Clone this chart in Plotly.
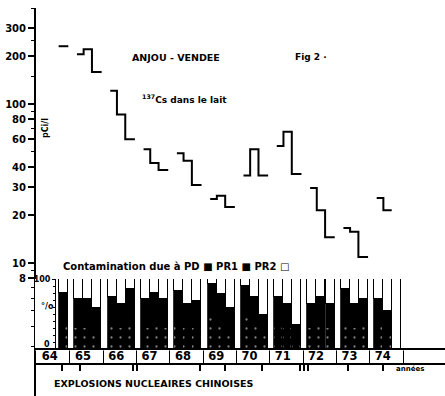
import plotly.graph_objects as go

# ---------------- data ----------------
years = [1964, 1965, 1966, 1967, 1968, 1969, 1970, 1971, 1972, 1973, 1974]
year_labels = ["64", "65", "66", "67", "68", "69", "70", "71", "72", "73", "74"]

# 137Cs in milk (pCi/l), three periods per year
cs137_period1 = [None, 206, 121, 52, 49, 25.3, 35.5, 54.5, 29.6, 16.6, 25.6]
cs137_period2 = [None, 221, 86, 42.5, 44, 26.5, 52, 67, 21.5, 15.7, 21.5]
cs137_period3 = [231, 159, 60, 38.5, 31, 22.5, 35.5, 36.3, 14.5, 10.9, None]

# contamination share (%) due to PD, PR1 (black part) ; PR2 = remainder (white)
pd_period1 = [None, 30, 35, 30, 40, 45, 45, 35, 30, 40, 35]
pd_period2 = [None, 30, 30, 40, 30, 35, 35, 30, 35, 30, 25]
pd_period3 = [35, 25, 40, 30, 30, 25, 20, 15, 30, 35, 0]
pr1_period1 = [None, 42, 40, 41, 43, 48, 45, 40, 34, 46, 37]
pr1_period2 = [None, 42, 34, 40, 34, 43, 40, 34, 40, 34, 29]
pr1_period3 = [45, 33, 46, 41, 38, 33, 29, 20, 35, 36, 0]
pr2_period1 = [None, 28, 25, 29, 17, 7, 10, 25, 36, 14, 28]
pr2_period2 = [None, 28, 36, 20, 36, 22, 25, 36, 25, 36, 46]
pr2_period3 = [20, 42, 14, 29, 32, 42, 51, 65, 35, 29, 100]

# Chinese nuclear explosions (positions on the time axis)
explosions = [1964.55, 1965.09, 1966.68, 1966.8, 1968.69, 1969.44, 1970.56,
              1971.70, 1971.82, 1971.94, 1973.14, 1974.19]

y_ticks = [8, 10, 20, 30, 40, 60, 80, 100, 200, 300]

# ---------------- layout helpers ----------------
W, H = 445, 396
ML, MR, MT, MB = 35, 0, 8, 0
PW, PH = W - ML - MR, H - MT - MB


def px(x):
    return (x - ML) / PW


def py(y):
    return (H - MB - y) / PH


step_edges = [0.0, 0.2, 0.45, 0.74]
bar_offsets = [0.055, 0.325, 0.6]
bar_width = 0.27
FONT = "DejaVu Sans"

# step-line coordinates
sx, sy = [], []
for i, yr in enumerate(years):
    vals = [cs137_period1[i], cs137_period2[i], cs137_period3[i]]
    pts_x, pts_y = [], []
    last = None
    for k, v in enumerate(vals):
        if v is None:
            continue
        pts_x.append(yr + step_edges[k])
        pts_y.append(v)
        last = k
    if pts_x:
        pts_x.append(yr + step_edges[last + 1])
        pts_y.append(pts_y[-1])
        sx += pts_x + [None]
        sy += pts_y + [None]

# bar coordinates
bx, b_pd, b_pr1, b_pr2 = [], [], [], []
for i, yr in enumerate(years):
    for k, (a, b, c) in enumerate(zip([pd_period1[i], pd_period2[i], pd_period3[i]],
                                      [pr1_period1[i], pr1_period2[i], pr1_period3[i]],
                                      [pr2_period1[i], pr2_period2[i], pr2_period3[i]])):
        if c is None:
            continue
        bx.append(yr + bar_offsets[k])
        b_pd.append(a)
        b_pr1.append(b)
        b_pr2.append(c)

fig = go.Figure()

fig.add_trace(go.Bar(
    x=bx, y=b_pd, width=bar_width, xaxis="x", yaxis="y2", name="PD",
    marker=dict(color="black", line=dict(color="black", width=0.8),
                pattern=dict(shape=".", fgcolor="white", size=9, solidity=0.05,
                             fillmode="overlay")),
    showlegend=False, hoverinfo="skip"))
fig.add_trace(go.Bar(
    x=bx, y=b_pr1, width=bar_width, xaxis="x", yaxis="y2", name="PR1",
    marker=dict(color="black", line=dict(color="black", width=0.8)),
    showlegend=False, hoverinfo="skip"))
fig.add_trace(go.Bar(
    x=bx, y=b_pr2, width=bar_width, xaxis="x", yaxis="y2", name="PR2",
    marker=dict(color="white", line=dict(color="black", width=1)),
    showlegend=False, hoverinfo="skip"))

fig.add_trace(go.Scatter(
    x=sx, y=sy, mode="lines", line=dict(color="black", width=2, shape="hv"),
    connectgaps=False, xaxis="x", yaxis="y", showlegend=False, hoverinfo="skip"))

# invisible trace to carry the explosion axis
fig.add_trace(go.Scatter(
    x=explosions, y=[8] * len(explosions), mode="markers", marker=dict(opacity=0),
    xaxis="x3", yaxis="y", showlegend=False, hoverinfo="skip"))

xr = [1963.74, 1976.05]
xpos = py(364)

fig.update_layout(
    width=W, height=H,
    margin=dict(l=ML, r=MR, t=MT, b=MB, pad=0),
    paper_bgcolor="white", plot_bgcolor="white",
    barmode="stack", bargap=0,
    hovermode=False,
    font=dict(family=FONT, color="black"),
    xaxis=dict(
        range=xr, anchor="free", position=xpos, domain=[0, 1], automargin=False,
        showline=True, linewidth=2, linecolor="black",
        showgrid=False, zeroline=False,
        tickmode="array", tickvals=[y + 0.18 for y in years], ticktext=year_labels,
        ticks="", ticklabelposition="inside",
        tickfont=dict(size=11.5, family=FONT, color="black", weight="bold"),
        minor=dict(tickmode="array", tickvals=[y + 0.79 for y in years],
                   ticks="inside", ticklen=14, tickwidth=1, tickcolor="black",
                   showgrid=False),
    ),
    xaxis3=dict(
        range=xr, overlaying="x", anchor="free", position=xpos, automargin=False,
        showline=False, showgrid=False, zeroline=False,
        tickmode="array", tickvals=explosions, ticks="outside", ticklen=6,
        tickwidth=1.5, tickcolor="black", showticklabels=False,
    ),
    yaxis=dict(
        type="log", range=[0.1635, 2.604], domain=[0, 1],
        anchor="free", position=0, automargin=False,
        showline=True, linewidth=2, linecolor="black",
        showgrid=False, zeroline=False,
        tickmode="array", tickvals=y_ticks, ticktext=[str(v) for v in y_ticks],
        ticks="outside", ticklen=6, tickwidth=1.5, tickcolor="black",
        tickfont=dict(size=10, family=FONT, color="black", weight="bold"),
        minor=dict(tickmode="array",
                   tickvals=[2, 3, 4, 5, 6, 7, 9, 50, 70, 90, 150, 250, 400],
                   ticks="outside", ticklen=3, tickwidth=1, tickcolor="black",
                   showgrid=False),
    ),
    yaxis2=dict(
        range=[-2, 100], domain=[py(350.4), py(279)],
        anchor="free", position=px(55), side="left", automargin=False,
        showline=True, linewidth=1, linecolor="black",
        showgrid=False, zeroline=True, zerolinecolor="black", zerolinewidth=1.5,
        tickmode="array", tickvals=[100], ticktext=["100"],
        ticks="outside", ticklen=3, tickcolor="black",
        tickfont=dict(size=8, family=FONT, color="black", weight="bold"),
        minor=dict(dtick=10, ticks="outside", ticklen=2, tickcolor="black",
                   showgrid=False),
    ),
)

ann = [
    dict(text="ANJOU - VENDEE", x=px(176), y=py(57), size=9.5),
    dict(text="Fig 2 ·", x=px(311), y=py(57), size=9),
    dict(text="<sup>137</sup>Cs dans le lait", x=px(184), y=py(99), size=9),
    dict(text="Contamination due à PD ■ PR1 ■ PR2 □", x=px(176), y=py(266), size=10),
    dict(text="°/o", x=px(47), y=py(306), size=8),
    dict(text="0", x=px(47), y=py(344), size=8),
    dict(text="années", x=px(410), y=py(369), size=7),
    dict(text="EXPLOSIONS NUCLEAIRES CHINOISES", x=px(153), y=py(383), size=9.5),
]
for a in ann:
    fig.add_annotation(text=a["text"], x=a["x"], y=a["y"], xref="paper", yref="paper",
                       showarrow=False, xanchor="center", yanchor="middle",
                       font=dict(size=a["size"], family=FONT, color="black", weight="bold"))

fig.add_annotation(text="pCi/l", x=px(45), y=py(128), xref="paper", yref="paper",
                   showarrow=False, textangle=-90, xanchor="center", yanchor="middle",
                   font=dict(size=8, family=FONT, color="black", weight="bold"))

fig.write_html(
    "out.html",
    config={"displayModeBar": False},
    post_script="document.body.style.margin='0px';document.body.style.padding='0px';"
                "document.documentElement.style.overflow='hidden';",
)
